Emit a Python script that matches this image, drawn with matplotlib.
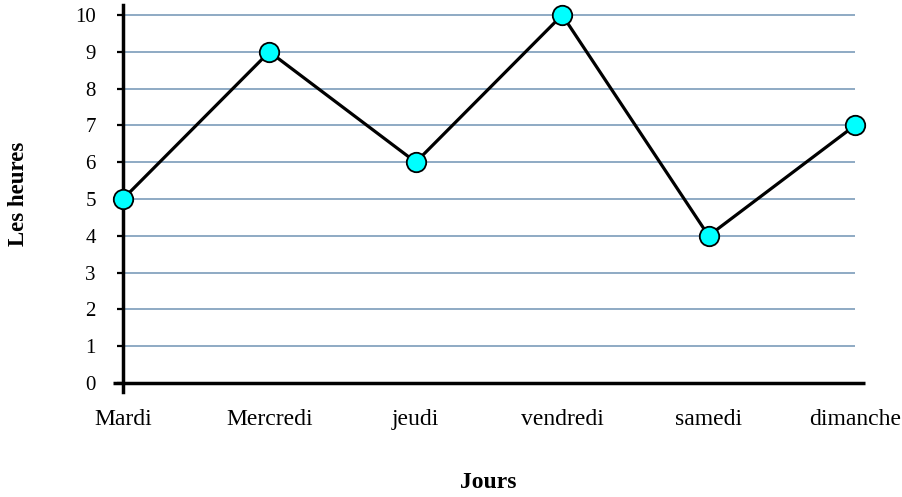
import matplotlib
matplotlib.use("Agg")
import matplotlib.pyplot as plt

DAYS = ["Mardi", "Mercredi", "jeudi", "vendredi", "samedi", "dimanche"]
HOURS = [5, 9, 6, 10, 4, 7]
YTICKS = list(range(0, 11))

plt.rcParams["font.family"] = ["Liberation Serif", "DejaVu Serif"]

W, H = 902, 497
fig = plt.figure(figsize=(W / 100, H / 100), dpi=100)

# pixel frame of the plot area
x0, x1 = 123, 865
y0, y1 = 392, 5
ax = fig.add_axes([x0 / W, 1 - y0 / H, (x1 - x0) / W, (y0 - y1) / H])

n = len(DAYS)
xs = list(range(n))
px_per_x = (855 - 123) / (n - 1)
px_per_y = (383 - 15) / 10
ax.set_xlim(0, (x1 - x0) / px_per_x)
ax.set_ylim(-(392 - 383) / px_per_y, 10 + (15 - 5) / px_per_y)

grid_c = "#8eaac4"
ax.hlines(YTICKS[1:], 0, n - 1, colors=grid_c, linewidth=1.4, zorder=1)

ax.plot(xs, HOURS, color="black", linewidth=2.3, zorder=3,
        marker="o", markersize=14, markerfacecolor="#00ffff",
        markeredgecolor="black", markeredgewidth=1.3, clip_on=False)

for s in ("top", "right"):
    ax.spines[s].set_visible(False)
ax.spines["bottom"].set_position(("data", 0))
ax.spines["left"].set_linewidth(2.5)
ax.spines["bottom"].set_linewidth(2.5)
ax.spines["bottom"].set_capstyle("butt")
# x axis line pokes out left of the y axis
ax.plot([-10 / px_per_x, 0], [0, 0], color="black", linewidth=2.5,
        clip_on=False, solid_capstyle="butt", zorder=2)

ax.set_yticks(YTICKS)
ax.set_yticklabels([str(v) for v in YTICKS], fontsize=15)
ax.tick_params(axis="y", direction="out", length=4.5, width=1.6, pad=15)
ax.set_xticks(xs)
ax.set_xticklabels(DAYS, fontsize=17)
ax.tick_params(axis="x", length=0, pad=19)

fig.text(488 / W, 1 - 482 / H, "Jours", ha="center", va="center",
         fontsize=17, fontweight="bold")
fig.text(18.5 / W, 1 - 193.5 / H, "Les heures", ha="center", va="center",
         fontsize=16.5, fontweight="bold", rotation=90)

fig.savefig("out.png", dpi=100)
